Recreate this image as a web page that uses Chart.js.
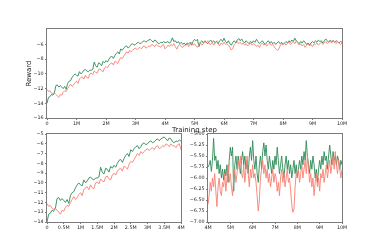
<!DOCTYPE html>
<html>
<head>
<meta charset="utf-8">
<script src="https://cdn.jsdelivr.net/npm/chart.js@4/dist/chart.umd.min.js"></script>
<style>
  body { margin: 0; background: #fff; }
  #wrap { position: relative; width: 380px; height: 250px; }
  canvas { position: absolute; left: 0; top: 0; }
</style>
</head>
<body>
<div id="wrap">
  <canvas id="cTop" width="380" height="250"></canvas>
  <canvas id="cLeft" width="380" height="250"></canvas>
  <canvas id="cRight" width="380" height="250"></canvas>
</div>
<script>
'use strict';

/* reward curves, one point every 50k steps */
const STEP = 50000;

// 0 .. 4M (81 points)
const greenEarly = [
  -14.0, -13.2, -13.1, -12.8, -12.9, -12.6, -11.6, -11.5, -11.8, -11.6,
  -11.8, -12.0, -11.7, -12.1, -11.3, -11.0, -10.9, -10.5, -10.2, -10.0,
  -10.2, -10.3, -9.7, -10.0, -9.8, -9.5, -9.4, -9.6, -9.7, -9.5,
  -9.5, -9.4, -8.4, -8.9, -9.1, -8.5, -8.6, -8.9, -8.3, -8.5,
  -8.2, -8.4, -8.0, -7.7, -7.6, -7.9, -7.5, -7.2, -7.0, -7.3,
  -6.6, -6.8, -6.5, -6.3, -6.2, -6.5, -6.3, -6.0, -5.9, -6.1,
  -6.0, -5.8, -5.7, -5.9, -5.8, -5.6, -5.5, -5.7, -5.5, -5.4,
  -5.3, -5.5, -5.7, -5.4, -5.5, -5.8, -5.9, -5.7, -5.8, -5.6,
  -5.75,
];
const redEarly = [
  -12.1, -12.4, -12.3, -12.6, -12.7, -12.6, -12.8, -13.0, -13.2, -12.8,
  -12.9, -12.5, -12.3, -12.4, -12.0, -11.7, -11.4, -11.7, -11.5, -11.2,
  -11.0, -11.3, -10.7, -10.5, -10.4, -10.7, -10.2, -10.5, -10.6, -10.0,
  -9.9, -10.1, -9.6, -9.8, -9.9, -9.4, -9.3, -9.6, -9.7, -9.2,
  -9.0, -9.2, -8.8, -8.6, -8.5, -8.8, -8.3, -8.4, -8.6, -8.1,
  -7.8, -7.9, -7.6, -7.3, -7.0, -7.2, -6.8, -7.0, -6.8, -6.6,
  -6.5, -6.7, -6.5, -6.4, -6.6, -6.3, -6.2, -6.5, -6.4, -6.2,
  -6.3, -6.0, -6.1, -6.3, -6.0, -6.2, -6.2, -6.4, -6.1, -6.0,
  -6.6,
];

// 4.05M .. 10M (120 points)
const greenLate = [
  -5.7, -5.6, -5.85, -5.6, -5.1, -5.6, -5.5, -5.8, -5.6, -5.9,
  -5.7, -6.0, -5.8, -6.05, -5.8, -5.95, -5.7, -6.1, -5.6, -5.3,
  -5.5, -5.3, -6.3, -5.7, -5.5, -5.8, -5.5, -5.7, -5.9, -5.6,
  -5.4, -5.7, -5.5, -5.8, -5.6, -5.9, -5.5, -5.3, -5.6, -5.15,
  -5.6, -5.8, -5.5, -5.9, -6.1, -5.7, -5.5, -5.8, -5.4, -5.2,
  -5.5, -5.25, -5.6, -5.8, -5.5, -5.7, -5.9, -5.6, -5.8, -5.5,
  -5.7, -5.3, -5.6, -5.9, -5.7, -5.5, -5.8, -6.0, -5.7, -5.5,
  -5.8, -5.6, -5.9, -5.7, -6.0, -5.8, -5.6, -5.9, -5.7, -6.0,
  -5.8, -5.6, -5.8, -5.5, -5.7, -5.4, -5.6, -5.15, -5.5, -5.7,
  -5.9, -5.6, -5.8, -5.5, -5.7, -6.0, -5.8, -6.1, -5.8, -5.6,
  -5.8, -5.5, -5.7, -5.4, -5.6, -5.5, -5.8, -5.5, -5.25, -5.5,
  -5.7, -5.4, -5.6, -5.5, -5.7, -5.5, -5.6, -5.8, -5.6, -5.7,
];
const redLate = [
  -6.4, -6.1, -6.3, -6.0, -6.2, -5.9, -6.3, -6.65, -6.2, -6.0,
  -6.3, -6.4, -6.1, -6.2, -5.9, -6.3, -6.0, -5.7, -6.1, -5.9,
  -6.2, -6.4, -6.0, -5.8, -6.1, -5.9, -5.6, -5.8, -5.5, -5.9,
  -6.0, -5.7, -6.1, -5.8, -5.5, -5.9, -6.2, -5.8, -6.0, -5.7,
  -6.0, -5.9, -6.1, -6.4, -6.75, -6.5, -6.0, -5.8, -5.6, -5.9,
  -5.7, -6.0, -5.8, -6.1, -5.9, -6.2, -6.0, -5.8, -6.1, -5.9,
  -6.0, -6.3, -6.1, -6.4, -6.0, -5.8, -6.1, -5.9, -6.2, -6.0,
  -5.8, -6.1, -6.0, -6.3, -6.6, -6.78, -6.7, -6.2, -5.9, -6.0,
  -5.8, -6.1, -5.9, -5.7, -6.0, -5.8, -5.6, -5.9, -5.5, -5.8,
  -6.1, -5.9, -6.2, -6.0, -6.4, -6.1, -5.9, -6.2, -6.0, -6.3,
  -5.9, -6.0, -5.8, -6.1, -5.9, -5.7, -6.0, -5.8, -5.6, -5.9,
  -5.7, -5.5, -5.8, -5.4, -5.7, -5.9, -5.6, -5.8, -6.0, -5.8,
];

// tick values / labels
const topXTicks  = [0, 1e6, 2e6, 3e6, 4e6, 5e6, 6e6, 7e6, 8e6, 9e6, 1e7];
const topXLabels = ['0', '1M', '2M', '3M', '4M', '5M', '6M', '7M', '8M', '9M', '10M'];
const topYTicks  = [-16, -14, -12, -10, -8, -6];

const leftXTicks  = [0, 5e5, 1e6, 1.5e6, 2e6, 2.5e6, 3e6, 3.5e6, 4e6];
const leftXLabels = ['0', '0.5M', '1M', '1.5M', '2M', '2.5M', '3M', '3.5M', '4M'];
const leftYTicks  = [-14, -13, -12, -11, -10, -9, -8, -7, -6, -5];

const rightXTicks  = [4e6, 5e6, 6e6, 7e6, 8e6, 9e6, 1e7];
const rightXLabels = ['4M', '5M', '6M', '7M', '8M', '9M', '10M'];
const rightYTicks  = [-7, -6.75, -6.5, -6.25, -6, -5.75, -5.5, -5.25, -5];

const GREEN = 'rgba(46,139,87,0.9)';
const RED   = 'rgba(250,128,114,0.9)';
const AXIS  = '#7a7a7a';
const FONT  = 'DejaVu Sans';

const minus = s => String(s).replace('-', '\u2212');
const pts = (vals, start) => vals.map((v, i) => ({ x: start + i * STEP, y: v }));

const greenAll = pts(greenEarly.concat(greenLate), 0);
const redAll   = pts(redEarly.concat(redLate), 0);
const greenL   = pts(greenEarly, 0);
const redL     = pts(redEarly, 0);
const greenR   = pts([greenEarly[greenEarly.length - 1]].concat(greenLate), 4e6);
const redR     = pts([redEarly[redEarly.length - 1]].concat(redLate), 4e6);

const framePlugin = {
  id: 'frame',
  afterDatasetsDraw(chart) {
    const a = chart.chartArea, ctx = chart.ctx;
    ctx.save();
    ctx.strokeStyle = AXIS;
    ctx.lineWidth = 1;
    ctx.strokeRect(a.left - 0.5, a.top - 0.5, a.right - a.left + 1, a.bottom - a.top + 1);
    ctx.restore();
  },
};

function line(data, color) {
  return { data, borderColor: color, borderWidth: 1, pointRadius: 0, tension: 0, fill: false };
}

function xAxis(min, max, ticks, labels, h, title) {
  return {
    type: 'linear', min, max,
    afterBuildTicks: s => { s.ticks = ticks.map(v => ({ value: v })); },
    afterFit: s => { s.height = h; },
    grid: { drawOnChartArea: false, drawTicks: true, tickLength: 2, color: AXIS },
    border: { display: false },
    ticks: {
      autoSkip: false, maxRotation: 0, padding: 1,
      font: { family: FONT, size: 4.8 }, color: '#222',
      callback: (v, i) => labels[i],
    },
    title: title ? { display: true, text: title, font: { family: FONT, size: 7 }, color: '#222',
                     padding: { top: 0, bottom: 0 } } : { display: false },
  };
}

function yAxis(min, max, ticks, fmt, w, title) {
  return {
    min, max,
    afterBuildTicks: s => { s.ticks = ticks.map(v => ({ value: v })); },
    afterFit: s => { s.width = w; },
    grid: { drawOnChartArea: false, drawTicks: true, tickLength: 2, color: AXIS },
    border: { display: false },
    ticks: {
      autoSkip: false, padding: 1.5,
      font: { family: FONT, size: 4.8 }, color: '#222',
      callback: v => minus(fmt(v)),
    },
    title: title ? { display: true, text: title, font: { family: FONT, size: 7 }, color: '#222',
                     padding: { top: 24.5, bottom: 0 } } : { display: false },
  };
}

function makeChart(id, datasets, padding, scales) {
  return new Chart(document.getElementById(id).getContext('2d'), {
    type: 'line',
    data: { datasets },
    options: {
      responsive: false, animation: false, devicePixelRatio: 1,
      events: [],
      layout: { padding },
      plugins: { legend: { display: false }, tooltip: { enabled: false } },
      scales,
    },
    plugins: [framePlugin],
  });
}

/* top: full 10M run */
makeChart('cTop',
  [line(redAll, RED), line(greenAll, GREEN)],
  { left: 0, top: 29, right: 38, bottom: 116 },
  {
    x: xAxis(0, 1e7, topXTicks, topXLabels, 16, 'Training step'),
    y: yAxis(-16, -3.9, topYTicks, v => v, 47, 'Reward'),
  });

/* bottom left: first 4M */
makeChart('cLeft',
  [line(redL, RED), line(greenL, GREEN)],
  { left: 20, top: 134, right: 199, bottom: 18 },
  {
    x: xAxis(0, 4e6, leftXTicks, leftXLabels, 10, null),
    y: yAxis(-14, -5, leftYTicks, v => v, 27, null),
  });

/* bottom right: 4M .. 10M */
makeChart('cRight',
  [line(redR, RED), line(greenR, GREEN)],
  { left: 180, top: 134, right: 38, bottom: 18 },
  {
    x: xAxis(4e6, 1e7, rightXTicks, rightXLabels, 10, null),
    y: yAxis(-7, -5, rightYTicks, v => v.toFixed(2), 28, null),
  });
</script>
</body>
</html>
